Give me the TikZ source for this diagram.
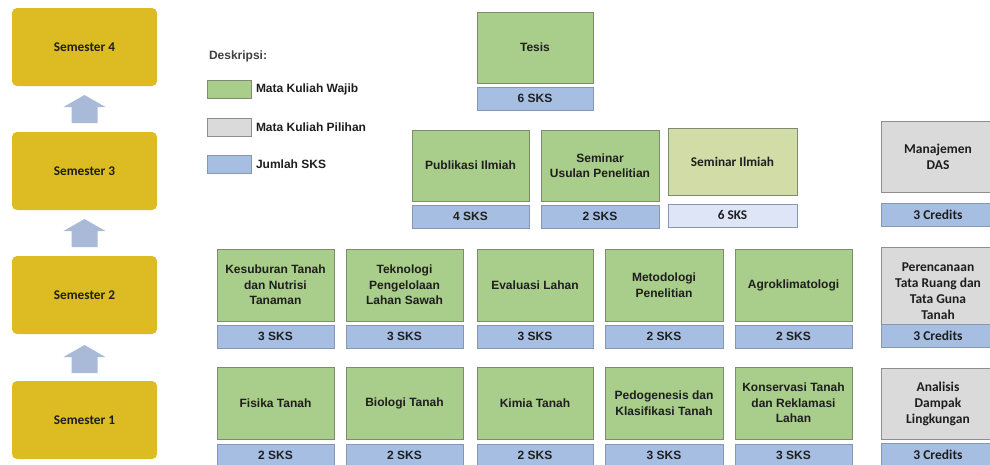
\documentclass[tikz,border=0pt]{standalone}
\usepackage{fontspec}
\setmainfont{Liberation Sans}
\newfontfamily\calfont{Carlito}
\usetikzlibrary{calc}
\definecolor{semyellow}{HTML}{DCBC22}
\definecolor{greenfill}{HTML}{A9CD8A}
\definecolor{greenline}{HTML}{7D8C70}
\definecolor{olivefill}{HTML}{D2DCA6}
\definecolor{grayfill}{HTML}{DADADA}
\definecolor{grayline}{HTML}{8E8E8E}
\definecolor{barfill}{HTML}{A7BEE3}
\definecolor{barline}{HTML}{8797B2}
\definecolor{palebar}{HTML}{DDE5F6}
\definecolor{arrowblue}{HTML}{A9BAD8}
\definecolor{txt}{HTML}{1E1E1E}
\newcommand\uparrowfrom[1]{%
  \fill[arrowblue] (#1) ++(-13,0) -- ++(0,-16) -- ++(-8,0) -- ++(21,-12)
    -- ++(21,12) -- ++(-8,0) -- ++(0,16) -- cycle;}
\begin{document}
\begin{tikzpicture}[x=1pt,y=-1pt,
  every node/.style={text=txt, inner sep=1pt, outer sep=0pt, align=center},
  semester/.style={fill=semyellow, rounded corners=5pt, minimum width=145pt,
    minimum height=78pt, anchor=north west, font=\calfont\bfseries\fontsize{13.3}{15}\selectfont},
  course/.style={draw=greenline, fill=greenfill, line width=0.8pt, minimum width=117pt,
    minimum height=72pt, anchor=north west, font=\bfseries\fontsize{12}{15.5}\selectfont},
  sks/.style={draw=barline, fill=barfill, line width=0.8pt, minimum width=117pt,
    minimum height=23pt, anchor=north west, font=\bfseries\fontsize{12}{14}\selectfont},
  elective/.style={draw=grayline, fill=grayfill, line width=0.8pt, minimum width=114pt,
    anchor=north west, font=\calfont\bfseries\fontsize{13.5}{16}\selectfont},
  credit/.style={draw=barline, fill=barfill, line width=0.8pt, minimum width=114pt,
    minimum height=23pt, anchor=north west, font=\calfont\bfseries\fontsize{13.5}{15}\selectfont},
  swatch/.style={line width=0.8pt, minimum width=44pt, minimum height=18pt, anchor=north west},
  legendtext/.style={anchor=west, font=\bfseries\fontsize{12}{14}\selectfont}
]
\useasboundingbox (0,0) rectangle (990,464);
\fill[white] (0,0) rectangle (990,464);

% semesters
\node[semester] (s4) at (12,8)   {Semester 4};
\node[semester] (s3) at (12,132) {Semester 3};
\node[semester] (s2) at (12,256) {Semester 2};
\node[semester] (s1) at (12,381) {Semester 1};
\uparrowfrom{$(s3.north)+(0,-9)$}
\uparrowfrom{$(s2.north)+(0,-9)$}
\uparrowfrom{$(s1.north)+(0,-8)$}

% legend
\node[anchor=west, font=\bfseries\fontsize{12}{14}\selectfont, text=txt!85] (deskripsi) at (208,56) {Deskripsi:};
\node[swatch, draw=greenline, fill=greenfill] (lg1) at (207,80)  {};
\node[swatch, draw=grayline, fill=grayfill]   (lg2) at (207,118) {};
\node[swatch, draw=barline, fill=barfill]     (lg3) at (207,155) {};
\node[legendtext] (lt1) at (255,89)  {Mata Kuliah Wajib};
\node[legendtext] (lt2) at (255,127) {Mata Kuliah Pilihan};
\node[legendtext] (lt3) at (255,164) {Jumlah SKS};

% semester 4
\node[course, minimum width=116pt, minimum height=71pt] (tesis) at (477,12) {Tesis};
\node[sks, minimum width=116pt] (tesisk) at (477,87) {6 SKS};

% semester 3
\node[course, minimum height=71pt] (pub) at (412,130) {Publikasi Ilmiah};
\node[sks] (pubk) at (412,205) {4 SKS};
\node[course, minimum width=118pt, minimum height=71pt] (sup) at (541,130) {Seminar\\Usulan Penelitian};
\node[sks, minimum width=118pt] (supk) at (541,205) {2 SKS};
\node[course, fill=olivefill, minimum width=129pt, minimum height=67pt,
  font=\calfont\bfseries\fontsize{13.3}{15}\selectfont] (sil) at (668,128) {Seminar Ilmiah};
\node[sks, fill=palebar, minimum width=129pt,
  font=\calfont\bfseries\fontsize{13.3}{15}\selectfont] (silk) at (668,204) {6 SKS};
\node[elective, minimum height=71pt] (das) at (881,121) {Manajemen\\DAS};
\node[credit] (dask) at (881,203) {3 Credits};

% semester 2
\node[course] (kes) at (217,249) {Kesuburan Tanah\\dan Nutrisi\\Tanaman};
\node[sks] (kesk) at (217,325) {3 SKS};
\node[course] (tek) at (346,249) {Teknologi\\Pengelolaan\\Lahan Sawah};
\node[sks] (tekk) at (346,325) {3 SKS};
\node[course, minimum width=116pt] (eva) at (477,249) {Evaluasi Lahan};
\node[sks, minimum width=116pt] (evak) at (477,325) {3 SKS};
\node[course, minimum width=118pt] (met) at (605,249) {Metodologi\\Penelitian};
\node[sks, minimum width=118pt] (metk) at (605,325) {2 SKS};
\node[course] (agr) at (735,249) {Agroklimatologi};
\node[sks] (agrk) at (735,325) {2 SKS};
\node[elective, minimum height=77pt] (ptr) at (881,247) {\\[4pt]Perencanaan\\Tata Ruang dan\\Tata Guna\\Tanah};
\node[credit] (ptrk) at (881,324) {3 Credits};

% semester 1
\node[course] (fis) at (217,367) {Fisika Tanah};
\node[sks] (fisk) at (217,444) {2 SKS};
\node[course] (bio) at (346,367) {Biologi Tanah};
\node[sks] (biok) at (346,444) {2 SKS};
\node[course, minimum width=116pt] (kim) at (477,367) {Kimia Tanah};
\node[sks, minimum width=116pt] (kimk) at (477,444) {2 SKS};
\node[course, minimum width=118pt] (ped) at (605,367) {Pedogenesis dan\\Klasifikasi Tanah};
\node[sks, minimum width=118pt] (pedk) at (605,444) {3 SKS};
\node[course] (kon) at (735,367) {Konservasi Tanah\\dan Reklamasi\\Lahan};
\node[sks] (konk) at (735,444) {3 SKS};
\node[elective, minimum height=71pt] (amd) at (881,368) {Analisis\\Dampak\\Lingkungan};
\node[credit] (amdk) at (881,443) {3 Credits};
\end{tikzpicture}
\end{document}
